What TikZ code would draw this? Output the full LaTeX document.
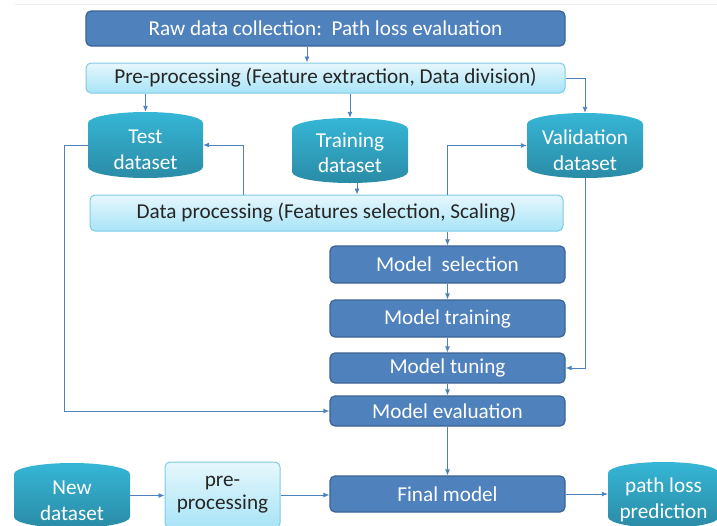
\documentclass[tikz,border=0pt]{standalone}
\usepackage{fontspec}
\setmainfont{Carlito}
\usetikzlibrary{arrows.meta,calc}
\definecolor{dblue}{HTML}{4F81BD}
\definecolor{dborder}{HTML}{3A6394}
\definecolor{ltop}{HTML}{E6F7FC}
\definecolor{lbot}{HTML}{A8E4F7}
\definecolor{lborder}{HTML}{7FCBE3}
\definecolor{ctop}{HTML}{36B6D6}
\definecolor{cbot}{HTML}{2A8BA6}
\definecolor{arrowc}{HTML}{4F81BD}
\newcommand\canshape[4]{%
  \pgfmathsetmacro\cana{(#3-#1)/2}%
  \shade[top color=ctop,bottom color=cbot,draw=none]
    (#1,#2+11) arc[start angle=180,end angle=0,x radius=\cana pt,y radius=11pt]
    -- (#3,#4-11) arc[start angle=0,end angle=-180,x radius=\cana pt,y radius=11pt] -- cycle;}
\begin{document}
\begin{tikzpicture}[x=1pt,y=-1pt,
  every node/.style={font=\fontsize{21.2}{25.5}\selectfont},
  dbox/.style={draw=dborder,line width=1.2pt,fill=dblue,rounded corners=5pt,text=white,inner sep=0pt},
  lbox/.style={draw=lborder,line width=1pt,top color=ltop,bottom color=lbot,rounded corners=5pt,text=black!85,inner sep=0pt},
  cangeo/.style={inner sep=0pt},
  cantext/.style={text=white,align=center,inner sep=0pt},
  arr/.style={draw=arrowc,line width=0.9pt,-{Latex[length=6pt,width=5pt]}}]
\useasboundingbox (0,0) rectangle (717,525);
\draw[black!8,line width=1pt] (15,4) -- (717,4);

\node[dbox,minimum width=479,minimum height=35] (raw) at (325.5,28.5) {Raw data collection:\ \ Path loss evaluation};
\node[lbox,minimum width=479,minimum height=30] (pre) at (325.5,78) {Pre-processing (Feature extraction, Data division)};

\canshape{88}{112}{203}{178}
\node[cangeo,minimum width=115,minimum height=66] (test) at (145.5,145) {};
\node[cantext] (testt) at (145.5,150) {Test\\dataset};

\canshape{292}{118}{408}{183}
\node[cangeo,minimum width=116,minimum height=65] (train) at (350,150.5) {};
\node[cantext] (traint) at (350,153) {Training\\dataset};

\canshape{527}{113}{643}{178}
\node[cangeo,minimum width=116,minimum height=65] (valid) at (585,145.5) {};
\node[cantext] (validt) at (585,150) {Validation\\dataset};

\node[lbox,minimum width=473,minimum height=36] (dp) at (326.5,213) {Data processing (Features selection, Scaling)};

\node[dbox,minimum width=235,minimum height=37] (msel) at (447.5,264.5) {Model\ \ selection};
\node[dbox,minimum width=235,minimum height=37] (mtrain) at (447.5,318.5) {Model training};
\node[dbox,minimum width=235,minimum height=30] (mtune) at (447.5,368) {Model tuning};
\node[dbox,minimum width=235,minimum height=30] (meval) at (447.5,411) {Model evaluation};
\node[dbox,minimum width=235,minimum height=36] (final) at (447.5,494) {Final model};

\canshape{14}{463}{130}{528}
\node[cangeo,minimum width=116,minimum height=65] (new) at (72,495.5) {};
\node[cantext] (newt) at (72,501) {New\\dataset};

\node[lbox,minimum width=115,minimum height=66,align=center,font=\fontsize{21.2}{23}\selectfont] (prep) at (222.5,495) {pre-\\processing};

\canshape{608}{462}{719}{528}
\node[cangeo,minimum width=111,minimum height=66] (plp) at (663.5,495) {};
\node[cantext] (plpt) at (663.5,500) {path loss\\prediction};

% connectors
\draw[arr] ([xshift=-18.5pt]raw.south) -- ([xshift=-18.5pt]pre.north);
\draw[arr] (pre.south -| test.north) -- (test.north);
\draw[arr] (pre.south -| train.north) -- (train.north);
\draw[arr] (pre.east) -| (valid.north);
\draw[arr] ([xshift=7pt]train.south) -- ([xshift=7pt]train.south |- dp.north);
\draw[arr] ([xshift=-83.5pt]dp.north) |- (test.east);
\draw[arr] ([xshift=120.5pt]dp.north) |- (valid.west);
\draw[arr] (dp.south -| msel.north) -- (msel.north);
\draw[arr] (msel.south) -- (mtrain.north);
\draw[arr] (mtrain.south) -- (mtune.north);
\draw[arr] (mtune.south) -- (meval.north);
\draw[arr] (meval.south) -- (final.north);
\draw[arr] (valid.south) |- (mtune.east);
\draw[arr] (test.west) -- ++(-23,0) |- (meval.west);
\draw[arr] (new.east) -- (new.east -| prep.west);
\draw[arr] (prep.east) -- (prep.east -| final.west);
\draw[arr] (final.east) -- (final.east -| plp.west);
\end{tikzpicture}
\end{document}
